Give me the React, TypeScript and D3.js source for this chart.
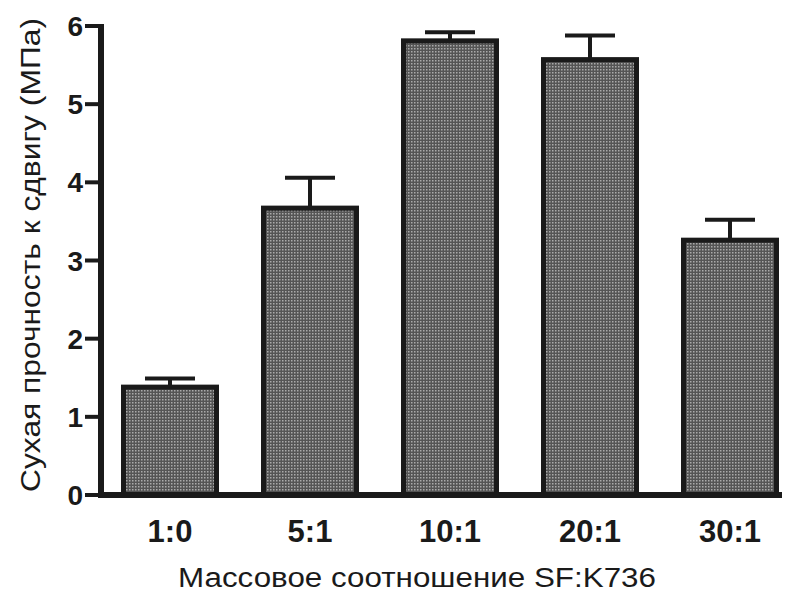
import React, { useEffect, useRef } from 'react';
import * as d3 from 'd3';

const categories = ['1:0', '5:1', '10:1', '20:1', '30:1'];
const means = [1.38, 3.67, 5.81, 5.57, 3.26];
const errors = [0.11, 0.39, 0.11, 0.31, 0.26];
const yTicks = [0, 1, 2, 3, 4, 5, 6];
const yTitle = 'Сухая прочность к сдвигу (МПа)';
const xTitle = 'Массовое соотношение SF:K736';

const App = () => {
  const svgRef = useRef<SVGSVGElement>(null);

  useEffect(() => {
    const width = 795;
    const height = 601;
    const left = 101;
    const bottom = 495;
    const top = 26;

    d3.select(svgRef.current).selectAll('*').remove();

    const svg = d3
      .select(svgRef.current)
      .attr('width', width)
      .attr('height', height)
      .style('position', 'absolute')
      .style('left', 0)
      .style('top', 0);

    // stippled grey fill like the scanned bars
    const defs = svg.append('defs');
    const pat = defs
      .append('pattern')
      .attr('id', 'dots')
      .attr('width', 3)
      .attr('height', 3)
      .attr('patternUnits', 'userSpaceOnUse');
    pat.append('rect').attr('width', 3).attr('height', 3).attr('fill', '#555');
    pat.append('rect').attr('width', 1.5).attr('height', 1.5).attr('fill', '#aaa');

    const x = d3
      .scaleBand()
      .domain(categories)
      .range([100, 800])
      .paddingInner(0.3)
      .paddingOuter(0.15);

    const y = d3.scaleLinear().domain([0, 6]).range([bottom, top]);

    const font = '"Liberation Sans", Arial, sans-serif';
    const sw = 5;

    // bars
    svg
      .selectAll('rect.bar')
      .data(categories)
      .enter()
      .append('rect')
      .attr('class', 'bar')
      .attr('x', (d) => x(d)! + sw / 2)
      .attr('width', x.bandwidth() - sw)
      .attr('y', (d, i) => y(means[i]))
      .attr('height', (d, i) => bottom - y(means[i]))
      .attr('fill', 'url(#dots)')
      .attr('stroke', '#1a1a1a')
      .attr('stroke-width', sw);

    // error bars (upper only)
    categories.forEach((c, i) => {
      const cx = x(c)! + x.bandwidth() / 2;
      svg
        .append('line')
        .attr('x1', cx)
        .attr('x2', cx)
        .attr('y1', y(means[i]))
        .attr('y2', y(means[i] + errors[i]))
        .attr('stroke', '#1a1a1a')
        .attr('stroke-width', 4);
      svg
        .append('line')
        .attr('x1', cx - 25)
        .attr('x2', cx + 25)
        .attr('y1', y(means[i] + errors[i]))
        .attr('y2', y(means[i] + errors[i]))
        .attr('stroke', '#1a1a1a')
        .attr('stroke-width', 4);
    });

    // y axis
    svg
      .append('line')
      .attr('x1', left)
      .attr('x2', left)
      .attr('y1', y(6) - 2)
      .attr('y2', bottom + 2.5)
      .attr('stroke', '#1a1a1a')
      .attr('stroke-width', 6);

    yTicks.forEach((t) => {
      svg
        .append('line')
        .attr('x1', 85)
        .attr('x2', left)
        .attr('y1', y(t))
        .attr('y2', y(t))
        .attr('stroke', '#1a1a1a')
        .attr('stroke-width', 4);
      svg
        .append('text')
        .attr('x', 83)
        .attr('y', y(t))
        .attr('dy', '0.36em')
        .attr('text-anchor', 'end')
        .attr('font-family', font)
        .attr('font-weight', 'bold')
        .attr('font-size', 28)
        .attr('fill', '#1a1a1a')
        .text(t);
    });

    // x axis
    svg
      .append('line')
      .attr('x1', left - 3)
      .attr('x2', 782)
      .attr('y1', bottom)
      .attr('y2', bottom)
      .attr('stroke', '#1a1a1a')
      .attr('stroke-width', 6);

    svg
      .selectAll('text.xlab')
      .data(categories)
      .enter()
      .append('text')
      .attr('class', 'xlab')
      .attr('x', (d) => x(d)! + x.bandwidth() / 2)
      .attr('y', 542)
      .attr('text-anchor', 'middle')
      .attr('font-family', font)
      .attr('font-weight', 'bold')
      .attr('font-size', 31)
      .attr('fill', '#1a1a1a')
      .text((d) => d);

    // axis titles
    svg
      .append('text')
      .attr('transform', `translate(40,${(18 + 492) / 2}) rotate(-90)`)
      .attr('text-anchor', 'middle')
      .attr('font-family', font)
      .attr('font-size', 27)
      .attr('fill', '#1a1a1a')
      .attr('textLength', 474)
      .attr('lengthAdjust', 'spacingAndGlyphs')
      .text(yTitle);

    svg
      .append('text')
      .attr('x', 417)
      .attr('y', 587)
      .attr('text-anchor', 'middle')
      .attr('font-family', font)
      .attr('font-size', 27)
      .attr('fill', '#1a1a1a')
      .attr('textLength', 478)
      .attr('lengthAdjust', 'spacingAndGlyphs')
      .text(xTitle);
  }, []);

  return <svg ref={svgRef}></svg>;
};

export default App;
